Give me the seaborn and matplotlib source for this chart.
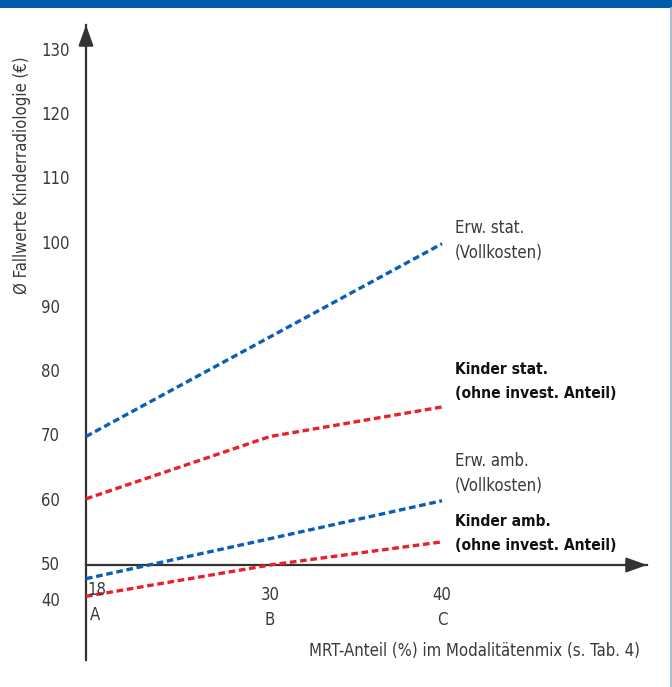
import numpy as np
import pandas as pd
import matplotlib
matplotlib.use("Agg")
import matplotlib.pyplot as plt
import matplotlib.transforms as mtrans
from matplotlib.patches import Rectangle
from matplotlib.lines import Line2D
import seaborn as sns

# data
mrt_share = [18, 30, 40]
scenario = ["A", "B", "C"]
erw_stat = [70, 85.5, 100]
kinder_stat = [60.3, 70, 74.6]
erw_amb = [46.2, 54.1, 60]
kinder_amb = [41.3, 50, 53.6]
y_ticks = [40, 50, 60, 70, 80, 90, 100, 110, 120, 130]

series = [
    ("Erw. stat.", "(Vollkosten)", erw_stat, "#0a5fb4", False),
    ("Kinder stat.", "(ohne invest. Anteil)", kinder_stat, "#e8202a", True),
    ("Erw. amb.", "(Vollkosten)", erw_amb, "#0a5fb4", False),
    ("Kinder amb.", "(ohne invest. Anteil)", kinder_amb, "#e8202a", True),
]

sns.set_style("white")
plt.rcParams["font.family"] = ["DejaVu Sans"]
plt.rcParams["font.stretch"] = "condensed"

W, H = 672, 687
fig = plt.figure(figsize=(W / 100, H / 100), dpi=100)


def px(x, y):
    return x / W, 1 - y / H


# axes box: y-axis at x=86, x arrow tip at 647, y arrow tip at 25, y-axis bottom at 660
ax = fig.add_axes([86 / W, 1 - 660 / H, (647 - 86) / W, (660 - 25) / H])

for name, sub, vals, col, bold in series:
    df = pd.DataFrame({"x": mrt_share, "y": vals})
    sns.lineplot(data=df, x="x", y="y", color=col, lw=2.4,
                 linestyle=(0, (2.0, 1.1)), ax=ax, clip_on=False)


# piecewise scales (broken axis below 50, schematic x spacing)
def fy(y):
    y = np.asarray(y, dtype=float)
    return np.where(y >= 50, y, 50 - (50 - y) * 36 / 64.25)


def iy(v):
    v = np.asarray(v, dtype=float)
    return np.where(v >= 50, v, 50 - (50 - v) * 64.25 / 36)


def fx(x):
    x = np.asarray(x, dtype=float)
    return np.where(x <= 30, (x - 18) * 184 / 12, 184 + (x - 30) * 17.2)


def ix(p):
    p = np.asarray(p, dtype=float)
    return np.where(p <= 184, 18 + p * 12 / 184, 30 + (p - 184) / 17.2)


ax.set_yscale("function", functions=(fy, iy))
ax.set_xscale("function", functions=(fx, ix))
ax.set_xlim(18, 40 + (647 - 442) / 17.2)
ax.set_ylim(50 - (95 / 6.425) * 64.25 / 36, 130 + 26 / 6.425)

axis_col = "#333333"
for s in ["top", "right"]:
    ax.spines[s].set_visible(False)
ax.spines["left"].set_position(("data", 18))
ax.spines["bottom"].set_position(("data", 50))
for s in ["left", "bottom"]:
    ax.spines[s].set_color(axis_col)
    ax.spines[s].set_linewidth(1.6)
    ax.spines[s].set_zorder(1)

ax.set_yticks(y_ticks)
ax.set_xticks([30, 40])
ax.tick_params(axis="both", direction="inout", length=16.5, width=1.4,
               color=axis_col, labelleft=False, labelbottom=False)
ax.yaxis.get_major_ticks()[1].tick1line.set_visible(False)
ax.set_xlabel("")
ax.set_ylabel("")
ax.grid(False)

# arrow heads
ahead = dict(arrowstyle="-|>,head_length=1.25,head_width=0.45", color=axis_col,
             lw=1.6, shrinkA=0, shrinkB=0, mutation_scale=10)
ax.annotate("", xy=(1, 50), xytext=(0.97, 50), xycoords=ax.get_yaxis_transform(),
            arrowprops=ahead, annotation_clip=False)
ax.annotate("", xy=(18, 1), xytext=(18, 0.97), xycoords=ax.get_xaxis_transform(),
            arrowprops=ahead, annotation_clip=False)

txt_col = "#3a3a3a"
fs = 12

# y tick labels
ylab_tr = mtrans.blended_transform_factory(fig.transFigure, ax.transData)
for v in y_ticks:
    ax.text(41 / W, v, str(v), transform=ylab_tr, ha="left", va="center",
            fontsize=fs, color=txt_col, clip_on=False)

# x tick labels
xlab_tr = mtrans.blended_transform_factory(ax.transData, fig.transFigure)
for xv, sc in zip(mrt_share[1:], scenario[1:]):
    ax.text(xv, 1 - 595.5 / H, str(xv), transform=xlab_tr, ha="center", va="center",
            fontsize=fs, color=txt_col)
    ax.text(xv, 1 - 620 / H, sc, transform=xlab_tr, ha="center", va="center",
            fontsize=fs, color=txt_col)
fig.text(*px(97, 590), str(mrt_share[0]), ha="center", va="center", fontsize=fs, color=txt_col)
fig.text(*px(95, 615), scenario[0], ha="center", va="center", fontsize=fs, color=txt_col)

# axis titles
fig.text(*px(640, 651), "MRT-Anteil (%) im Modalitätenmix (s. Tab. 4)", ha="right",
         va="center", fontsize=fs, color=txt_col)
fig.text(*px(22, 175), "Ø Fallwerte Kinderradiologie (€)", rotation=90, ha="center",
         va="center", fontsize=fs, color=txt_col)

# series labels
label_y = [(228, 253), (369, 393), (461, 486), (522, 546)]
for (name, sub, vals, col, bold), (y1, y2) in zip(series, label_y):
    c = "#111111" if bold else txt_col
    w = "bold" if bold else "normal"
    size = 11.2 if bold else fs
    fig.text(*px(455, y1), name, ha="left", va="center", fontsize=size, color=c, weight=w)
    fig.text(*px(455, y2), sub, ha="left", va="center", fontsize=size, color=c, weight=w)

# frame decoration: top band and right border
fig.patches.append(Rectangle((0, 1 - 8 / H), 1, 8 / H, transform=fig.transFigure,
                             facecolor="#005ca9", edgecolor="none"))
fig.add_artist(Line2D([671 / W, 671 / W], [0, 1 - 8 / H], transform=fig.transFigure,
                      color="#a9bfd8", lw=1.5))

fig.savefig("out.png", dpi=100)
